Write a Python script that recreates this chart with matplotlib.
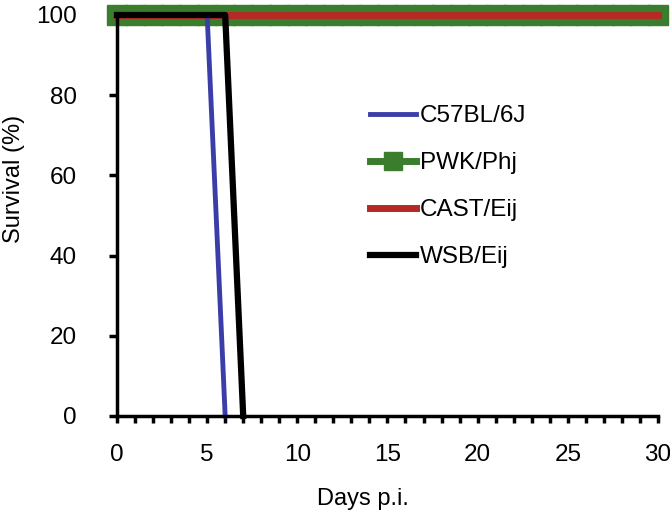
import matplotlib
matplotlib.use("Agg")
import matplotlib.pyplot as plt

plt.rcParams['font.family'] = ['Liberation Sans', 'DejaVu Sans']

# survival curves (day, % surviving)
b6_days = [0, 5, 6]
b6_surv = [100, 100, 0]

pwk_days = [0, 1, 2, 3, 4, 5, 6, 7, 8, 9, 10, 11, 12, 13, 14, 15,
            16, 17, 18, 19, 20, 21, 22, 23, 24, 25, 26, 27, 28, 29, 30]
pwk_surv = [100] * len(pwk_days)

cast_days = [0, 30]
cast_surv = [100, 100]

wsb_days = [0, 6, 7]
wsb_surv = [100, 100, 0]

fig = plt.figure(figsize=(6.7, 5.17), dpi=100)
ax = fig.add_axes([0.1746, 0.1954, 0.8074, 0.7756])

ax.plot(pwk_days, pwk_surv, color="#3a7d2c", linewidth=5, marker="s",
        markersize=14, clip_on=False, zorder=3, label="PWK/Phj")
ax.plot(cast_days, cast_surv, color="#b52a24", linewidth=5,
        clip_on=False, zorder=4, label="CAST/Eij")
ax.plot(b6_days, b6_surv, color="#3b3ea8", linewidth=3.5,
        clip_on=False, zorder=5, label="C57BL/6J")
ax.plot(wsb_days, wsb_surv, color="black", linewidth=4.5,
        clip_on=False, zorder=6, label="WSB/Eij")

ax.set_xlim(0, 30)
ax.set_ylim(0, 100)
ax.set_xticks(range(0, 31, 5))
ax.set_xticks(range(0, 31, 1), minor=True)
ax.set_yticks(range(0, 101, 20))

for s in ["top", "right"]:
    ax.spines[s].set_visible(False)
for s in ["left", "bottom"]:
    ax.spines[s].set_linewidth(2.5)
    ax.spines[s].set_zorder(7)

ax.tick_params(axis="x", which="both", direction="out", length=5, width=2.5,
               labelsize=17.5, pad=15)
ax.tick_params(axis="y", direction="out", length=6, width=2.5,
               labelsize=17.5, pad=23)

ax.set_xlabel("Days p.i.", fontsize=17)
ax.set_ylabel("Survival (%)", fontsize=17)
ax.xaxis.set_label_coords(0.455, -0.18)
ax.yaxis.set_label_coords(-0.17, 0.59)

handles, labels = ax.get_legend_handles_labels()
order = [2, 0, 1, 3]
leg = ax.legend([handles[i] for i in order], [labels[i] for i in order],
                loc="upper left", bbox_to_anchor=(0.468, 0.775), frameon=False,
                fontsize=17.5, handlelength=1.9, handletextpad=0.15,
                labelspacing=1.03, borderpad=0, borderaxespad=0)
for h in leg.legend_handles:
    h.set_markersize(13)

fig.savefig("out.png", dpi=100)
